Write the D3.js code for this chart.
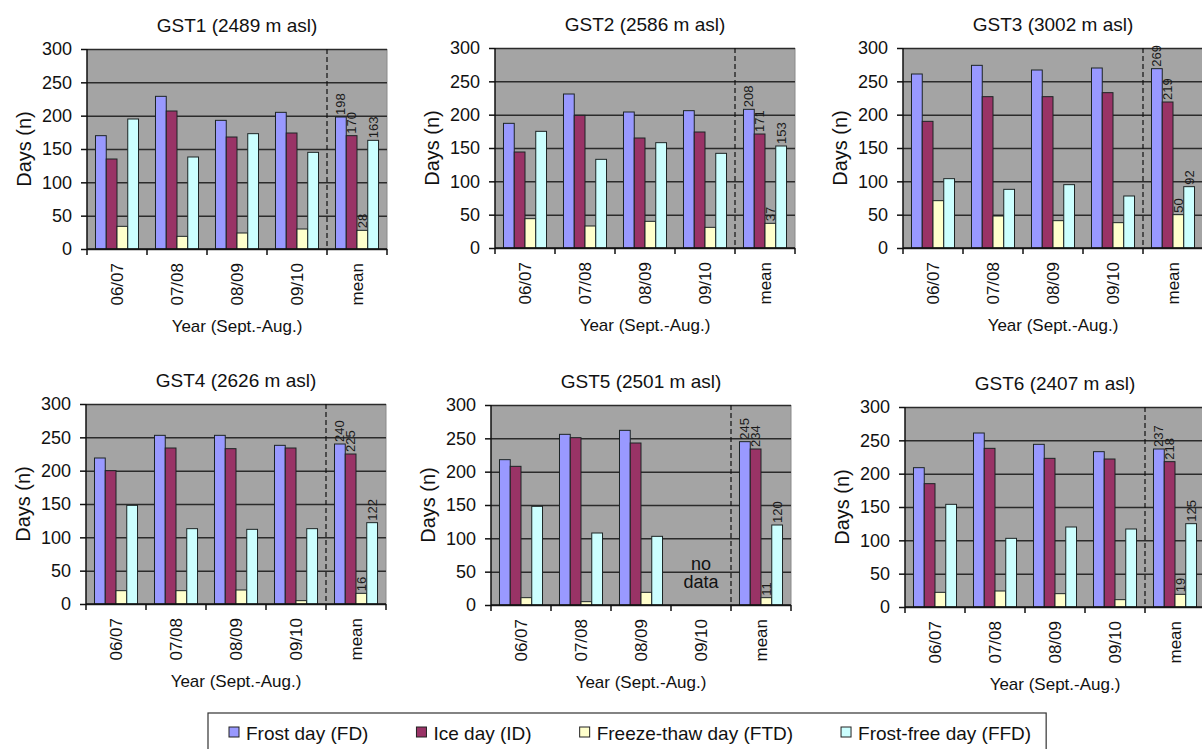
<!DOCTYPE html>
<html>
<head>
<meta charset="utf-8">
<script src="https://cdn.jsdelivr.net/npm/d3@7"></script>
<style>
  html, body { margin: 0; padding: 0; background: #ffffff; }
  svg { display: block; font-family: "Liberation Sans", Arial, sans-serif; }
</style>
</head>
<body>
<svg id="chart" width="1202" height="749"></svg>
<script>
// ---------------- DATA ----------------
const categories = ["06/07", "07/08", "08/09", "09/10", "mean"];
const seriesNames = ["Frost day (FD)", "Ice day (ID)", "Freeze-thaw day (FTD)", "Frost-free day (FFD)"];
const seriesKeys = ["FD", "ID", "FTD", "FFD"];
const yTicks = [0, 50, 100, 150, 200, 250, 300];

const stationTitles = [
  "GST1 (2489 m asl)", "GST2 (2586 m asl)", "GST3 (3002 m asl)",
  "GST4 (2626 m asl)", "GST5 (2501 m asl)", "GST6 (2407 m asl)"
];

// values per station, order of categories: 06/07, 07/08, 08/09, 09/10, mean
const gst1FD  = [170, 229, 193, 205, 198];
const gst1ID  = [135, 207, 168, 174, 170];
const gst1FTD = [34, 19, 24, 30, 28];
const gst1FFD = [195, 138, 173, 145, 163];

const gst2FD  = [187, 231, 204, 206, 208];
const gst2ID  = [144, 199, 165, 174, 171];
const gst2FTD = [44, 33, 40, 31, 37];
const gst2FFD = [175, 133, 158, 142, 153];

const gst3FD  = [261, 274, 267, 270, 269];
const gst3ID  = [190, 227, 227, 233, 219];
const gst3FTD = [71, 48, 41, 38, 50];
const gst3FFD = [104, 88, 95, 78, 92];

const gst4FD  = [219, 253, 253, 238, 240];
const gst4ID  = [200, 234, 233, 234, 225];
const gst4FTD = [20, 20, 21, 5, 16];
const gst4FFD = [148, 113, 112, 113, 122];

const gst5FD  = [218, 256, 262, null, 245];
const gst5ID  = [208, 251, 243, null, 234];
const gst5FTD = [11, 5, 19, null, 11];
const gst5FFD = [148, 108, 103, null, 120];

const gst6FD  = [209, 261, 244, 233, 237];
const gst6ID  = [185, 238, 223, 222, 218];
const gst6FTD = [22, 24, 20, 11, 19];
const gst6FFD = [154, 103, 120, 117, 125];

const stationData = [
  [gst1FD, gst1ID, gst1FTD, gst1FFD],
  [gst2FD, gst2ID, gst2FTD, gst2FFD],
  [gst3FD, gst3ID, gst3FTD, gst3FFD],
  [gst4FD, gst4ID, gst4FTD, gst4FFD],
  [gst5FD, gst5ID, gst5FTD, gst5FFD],
  [gst6FD, gst6ID, gst6FTD, gst6FFD]
];
const noDataText = ["no", "data"];

// ---------------- LAYOUT / STYLE ----------------
const colors = ["#9999ff", "#993366", "#ffffcc", "#ccffff"];
const panelPos = [
  {left: 87, top: 49}, {left: 495, top: 48}, {left: 903, top: 48},
  {left: 86, top: 404}, {left: 491, top: 405}, {left: 905, top: 407}
];
const PW = 300, PH = 200;
const ink = "#111";

const svg = d3.select("#chart");

stationData.forEach((series, si) => {
  const pos = panelPos[si];
  const g = svg.append("g").attr("transform", `translate(${pos.left},${pos.top})`);

  const x = d3.scaleBand().domain(categories).range([0, PW])
    .paddingInner(0.283).paddingOuter(0.1415);
  const xs = d3.scaleBand().domain(seriesKeys).range([0, x.bandwidth()]).padding(0);
  const y = d3.scaleLinear().domain([0, 300]).range([PH, 0]);

  // background
  g.append("rect").attr("x", 0).attr("y", 0).attr("width", PW).attr("height", PH)
    .attr("fill", "#a4a4a4");
  // right border
  g.append("line").attr("x1", PW).attr("x2", PW).attr("y1", 0).attr("y2", PH)
    .attr("stroke", "#8a8a8a").attr("stroke-width", 1);

  // gridlines
  g.append("g").call(d3.axisLeft(y).tickValues(yTicks).tickSize(-PW).tickFormat(""))
    .call(a => a.select(".domain").remove())
    .call(a => a.selectAll("line").attr("stroke", "#2b2b2b").attr("stroke-width", 1.5));

  // bars
  const cat = g.selectAll("g.cat").data(categories).join("g")
    .attr("transform", d => `translate(${x(d)},0)`);
  cat.each(function(c, ci) {
    const rows = seriesKeys.map((k, ki) => ({k, ki, v: series[ki][ci]})).filter(r => r.v !== null);
    d3.select(this).selectAll("rect").data(rows).join("rect")
      .attr("x", r => xs(r.k))
      .attr("y", r => y(r.v))
      .attr("width", xs.bandwidth())
      .attr("height", r => PH - y(r.v))
      .attr("fill", r => colors[r.ki])
      .attr("stroke", "#1c2424").attr("stroke-width", 1);
  });

  // dashed separator before mean
  const sepX = x.step() * 4;
  g.append("line").attr("x1", sepX).attr("x2", sepX).attr("y1", 0).attr("y2", PH)
    .attr("stroke", "#111").attr("stroke-width", 1.2).attr("stroke-dasharray", "5,3");

  // mean labels
  const mi = categories.length - 1;
  seriesKeys.forEach((k, ki) => {
    const v = series[ki][mi];
    if (v === null) return;
    const cx = x("mean") + xs(k) + xs.bandwidth() / 2;
    const cy = y(v) - 2;
    g.append("text")
      .attr("transform", `translate(${cx},${cy}) rotate(-90)`)
      .attr("dy", "0.35em")
      .attr("text-anchor", "start")
      .attr("font-size", 13)
      .attr("fill", "#1a1a1a")
      .text(v);
  });

  // no data text
  categories.forEach((c, ci) => {
    const missing = seriesKeys.every((k, ki) => series[ki][ci] === null);
    if (!missing) return;
    const t = g.append("text").attr("text-anchor", "middle").attr("font-size", 18)
      .attr("fill", ink);
    noDataText.forEach((line, li) => {
      t.append("tspan").attr("x", x(c) + x.bandwidth() / 2)
        .attr("y", y(0) - 35 + li * 18).text(line);
    });
  });

  // y axis
  const ya = g.append("g").call(d3.axisLeft(y).tickValues(yTicks).tickSize(6).tickPadding(9));
  ya.select(".domain").attr("stroke", "#111").attr("stroke-width", 1.5).attr("d", `M0,0V${PH}`);
  ya.selectAll("line").attr("stroke", "#111").attr("stroke-width", 1.5);
  ya.selectAll("text").attr("font-size", 18).attr("fill", ink)
    .attr("font-family", "'Liberation Sans', Arial, sans-serif");

  // x axis line and tick marks at band boundaries
  g.append("line").attr("x1", 0).attr("x2", PW).attr("y1", PH).attr("y2", PH)
    .attr("stroke", "#111").attr("stroke-width", 1.5);
  d3.range(categories.length + 1).forEach(i => {
    const tx = x.step() * i;
    g.append("line").attr("x1", tx).attr("x2", tx).attr("y1", PH).attr("y2", PH + 6)
      .attr("stroke", "#111").attr("stroke-width", 1.5);
  });
  // category labels (rotated)
  categories.forEach(c => {
    const cx = x(c) + x.bandwidth() / 2;
    g.append("text")
      .attr("transform", `translate(${cx},${PH + 14}) rotate(-90)`)
      .attr("text-anchor", "end").attr("dy", "0.35em")
      .attr("font-size", 17).attr("fill", ink).text(c);
  });

  // title
  g.append("text").attr("x", PW / 2).attr("y", -17).attr("text-anchor", "middle")
    .attr("font-size", 19).attr("fill", ink).text(stationTitles[si]);
  // x axis title
  g.append("text").attr("x", PW / 2).attr("y", PH + 83).attr("text-anchor", "middle")
    .attr("font-size", 17).attr("fill", ink).text("Year (Sept.-Aug.)");
  // y axis title
  g.append("text").attr("transform", `translate(${-63},${PH / 2}) rotate(-90)`)
    .attr("text-anchor", "middle").attr("dy", "0.35em")
    .attr("font-size", 20).attr("fill", ink).text("Days (n)");
});

// ---------------- LEGEND ----------------
const legend = svg.append("g");
const legBox = legend.append("rect").attr("x", 208).attr("y", 713)
  .attr("height", 60).attr("fill", "#fff").attr("stroke", "#333").attr("stroke-width", 1.2);
let cursor = 229;
seriesNames.forEach((name, i) => {
  legend.append("rect").attr("x", cursor).attr("y", 727).attr("width", 10).attr("height", 10)
    .attr("fill", colors[i]).attr("stroke", "#222").attr("stroke-width", 1);
  const t = legend.append("text").attr("x", cursor + 17).attr("y", 740)
    .attr("font-size", 19).attr("fill", ink).text(name);
  const w = t.node().getComputedTextLength();
  cursor = cursor + 17 + w + 48;
});
legBox.attr("width", cursor - 48 + 15 - 208);
</script>
</body>
</html>
